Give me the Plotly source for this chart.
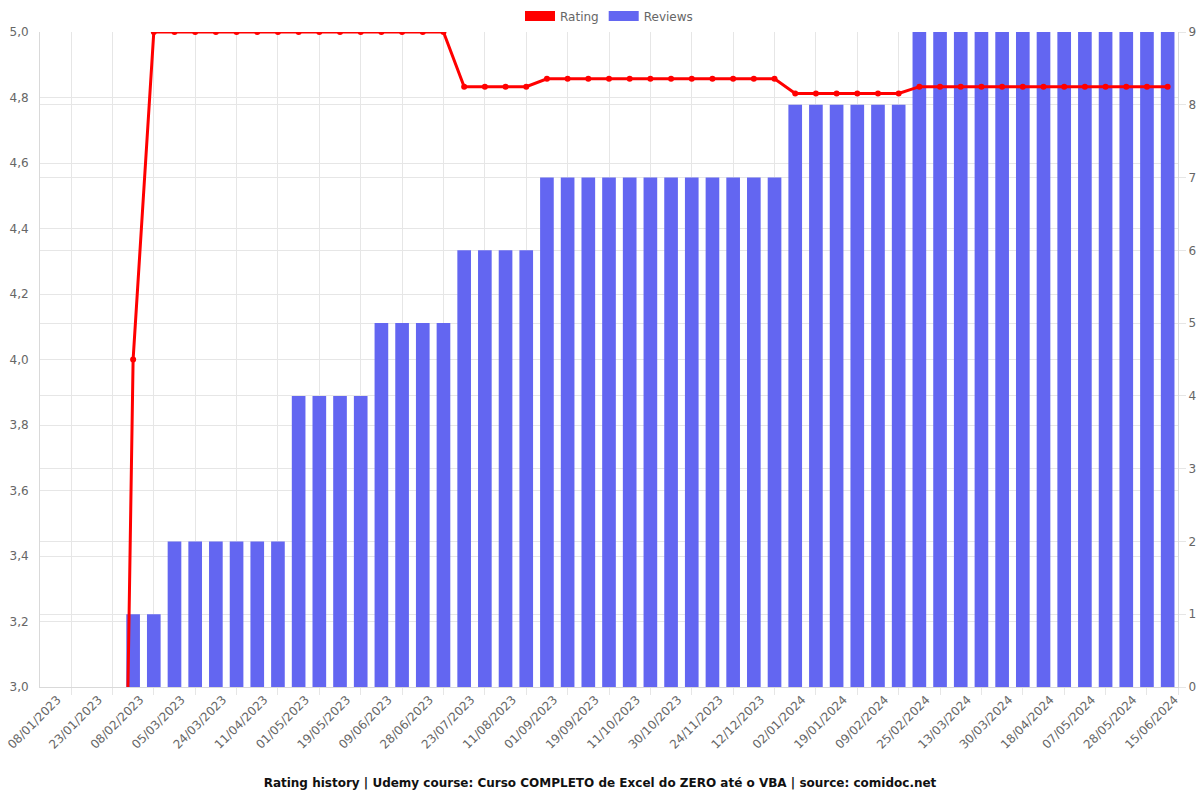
import plotly.graph_objects as go

dates = [
    "08/01/2023", "15/01/2023", "23/01/2023", "31/01/2023", "08/02/2023", "20/02/2023",
    "05/03/2023", "15/03/2023", "24/03/2023", "02/04/2023", "11/04/2023", "21/04/2023",
    "01/05/2023", "10/05/2023", "19/05/2023", "29/05/2023", "09/06/2023", "19/06/2023",
    "28/06/2023", "10/07/2023", "23/07/2023", "02/08/2023", "11/08/2023", "21/08/2023",
    "01/09/2023", "10/09/2023", "19/09/2023", "30/09/2023", "11/10/2023", "20/10/2023",
    "30/10/2023", "12/11/2023", "24/11/2023", "03/12/2023", "12/12/2023", "22/12/2023",
    "02/01/2024", "10/01/2024", "19/01/2024", "29/01/2024", "09/02/2024", "17/02/2024",
    "25/02/2024", "05/03/2024", "13/03/2024", "21/03/2024", "30/03/2024", "09/04/2024",
    "18/04/2024", "27/04/2024", "07/05/2024", "17/05/2024", "28/05/2024", "06/06/2024",
    "15/06/2024",
]

reviews = [0, 0, 0, 0, 1, 1,
           2, 2, 2, 2, 2, 2,
           4, 4, 4, 4,
           5, 5, 5, 5,
           6, 6, 6, 6,
           7, 7, 7, 7, 7, 7, 7, 7, 7, 7, 7, 7,
           8, 8, 8, 8, 8, 8,
           9, 9, 9, 9, 9, 9, 9, 9, 9, 9, 9, 9, 9]

ratings = [0, 0, 0, 0, 4.0,
           5.0, 5.0, 5.0, 5.0, 5.0, 5.0, 5.0, 5.0, 5.0, 5.0, 5.0, 5.0, 5.0, 5.0, 5.0,
           4.833, 4.833, 4.833, 4.833,
           4.857, 4.857, 4.857, 4.857, 4.857, 4.857, 4.857, 4.857, 4.857, 4.857, 4.857, 4.857,
           4.8125, 4.8125, 4.8125, 4.8125, 4.8125, 4.8125,
           4.833, 4.833, 4.833, 4.833, 4.833, 4.833, 4.833, 4.833, 4.833, 4.833, 4.833, 4.833, 4.833]

title_text = "Rating history | Udemy course: Curso COMPLETO de Excel do ZERO até o VBA | source: comidoc.net"

idx = list(range(len(dates)))
label_idx = idx[::2]
grid_idx = idx[1::2]

RED = "#ff0000"
BLUE = "#6366f1"
GRID = "#e6e6e6"
FONT = "DejaVu Sans"

fig = go.Figure()

# legend entries drawn as wide boxes (Chart.js style)
fig.add_trace(go.Scatter(x=[idx[0]], y=[None], name="Rating", mode="lines",
                         line=dict(color=RED, width=14), legendgroup="rating",
                         yaxis="y2", hoverinfo="skip"))
fig.add_trace(go.Scatter(x=[idx[0]], y=[None], name="Reviews", mode="lines",
                         line=dict(color=BLUE, width=14), legendgroup="reviews",
                         yaxis="y", hoverinfo="skip"))

fig.add_trace(go.Bar(
    x=idx, y=reviews, name="Reviews", yaxis="y", width=0.66,
    marker=dict(color=BLUE, line=dict(width=0)),
    legendgroup="reviews", showlegend=False,
))

fig.add_trace(go.Scatter(
    x=idx, y=ratings, name="Rating", mode="lines+markers",
    line=dict(color=RED, width=3), marker=dict(color=RED, size=6),
    legendgroup="rating", showlegend=False, yaxis="y2",
))

fig.update_layout(
    width=1200, height=800,
    margin=dict(l=40, r=22, t=32, b=113, autoexpand=False),
    paper_bgcolor="white", plot_bgcolor="white",
    separators=",.",
    barmode="overlay",
    font=dict(family=FONT, size=12, color="#666666"),
    showlegend=True,
    legend=dict(orientation="h", x=0.5, xanchor="center", y=0.98, yanchor="middle",
                yref="container", font=dict(size=12, color="#666666", family=FONT),
                traceorder="normal"),
    title=dict(text="<b>" + title_text + "</b>", x=0.5, xanchor="center",
               y=0.022, yanchor="middle", yref="container",
               font=dict(family=FONT, size=12, color="#111111")),
    xaxis=dict(
        type="linear", range=[-0.5, len(dates) - 0.5],
        tickmode="array", tickvals=label_idx, ticktext=[dates[i] for i in label_idx],
        tickangle=-45, showgrid=False, ticks="", zeroline=False,
        ticklabeloverflow="allow", automargin=False, ticklabelshift=7,
        showline=True, linecolor="#d9d9d9", mirror=False,
        tickfont=dict(size=12, color="#666666"),
        minor=dict(tickmode="array", tickvals=grid_idx + [len(dates) - 0.5], showgrid=True,
                   gridcolor=GRID, ticks="outside", ticklen=7, tickcolor=GRID),
    ),
    yaxis=dict(
        range=[0, 9], tick0=0, dtick=1, side="right", automargin=False,
        showgrid=True, gridcolor=GRID, zeroline=False,
        showline=True, linecolor="#d9d9d9",
        ticks="outside", ticklen=7, tickcolor=GRID,
        tickfont=dict(size=12, color="#666666"),
    ),
    yaxis2=dict(
        range=[3.0, 5.0], tick0=3.0, dtick=0.2, tickformat=".1f", automargin=False,
        overlaying="y", side="left",
        showgrid=True, gridcolor=GRID, zeroline=False,
        showline=True, linecolor="#d9d9d9",
        ticks="outside", ticklen=8, tickcolor="white",
        tickfont=dict(size=12, color="#666666"),
    ),
)

fig.write_html("out.html")
